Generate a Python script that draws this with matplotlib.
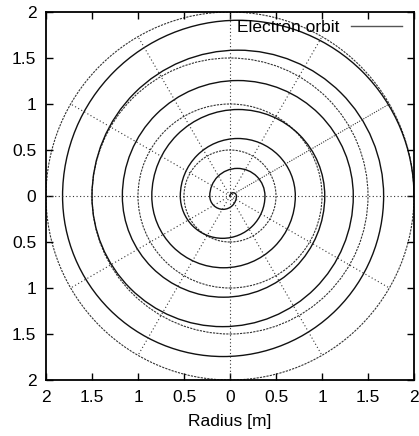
import matplotlib
matplotlib.use("Agg")
import matplotlib.pyplot as plt
from matplotlib.patches import Arc, Circle
import numpy as np

plt.rcParams['font.family'] = ['Liberation Sans', 'DejaVu Sans']

# points where the orbit crosses the x axis, in the order it is travelled
crossings = [0.0, 0.07, -0.22, 0.38, -0.54, 0.71, -0.85, 1.03, -1.17, 1.34, -1.50, 1.67, -1.82, 2.0]

grid_radii = [0.5, 1.0, 1.5, 2.0]
grid_angles = [0, 30, 60, 90, 120, 150, 180, 210, 240, 270, 300, 330]

tick_pos = [-2, -1.5, -1, -0.5, 0, 0.5, 1, 1.5, 2]
tick_lab = ['2', '1.5', '1', '0.5', '0', '0.5', '1', '1.5', '2']

fig = plt.figure(figsize=(4.19, 4.36), dpi=100)
ax = fig.add_axes([46 / 419, 56 / 436, 368 / 419, 368 / 436])

# polar grid
for r in grid_radii:
    ax.add_patch(Circle((0, 0), r, fill=False, ls=(0, (2, 1)), lw=0.8, color='#333333'))
for a in grid_angles:
    t = np.deg2rad(a)
    dots = (0, (1, 1.2)) if a == 30 else (0, (1, 2.2))
    ax.plot([0, 2 * np.cos(t)], [0, 2 * np.sin(t)], ls=dots, lw=0.8, color='#333333')

# orbit made of half circles joining the crossings
for p, q in zip(crossings[:-1], crossings[1:]):
    c = (p + q) / 2
    d = abs(p - q)
    if p > q:
        th1, th2 = 180, 360
    else:
        th1, th2 = 0, 180
    ax.add_patch(Arc((c, 0), d, d, theta1=th1, theta2=th2, lw=1.0, color='#111111'))

ax.plot([], [], lw=1.0, color='#555555', label='Electron orbit')

ax.set_xlim(-2, 2)
ax.set_ylim(-2, 2)
ax.set_aspect('equal')
ax.set_xticks(tick_pos)
ax.set_xticklabels(tick_lab)
ax.set_yticks(tick_pos)
ax.set_yticklabels(tick_lab)
ax.tick_params(direction='in', length=5, width=1, top=True, right=True, labelsize=12.5, pad=7)
for s in ax.spines.values():
    s.set_linewidth(1.3)
ax.set_xlabel('Radius [m]', fontsize=12.5, labelpad=7)

leg = ax.legend(loc='upper right', frameon=False, markerfirst=False, handlelength=2.9,
                handletextpad=0.7, fontsize=12.5, borderaxespad=0.0,
                bbox_to_anchor=(0.985, 0.998))

fig.savefig('out.png', dpi=100)
